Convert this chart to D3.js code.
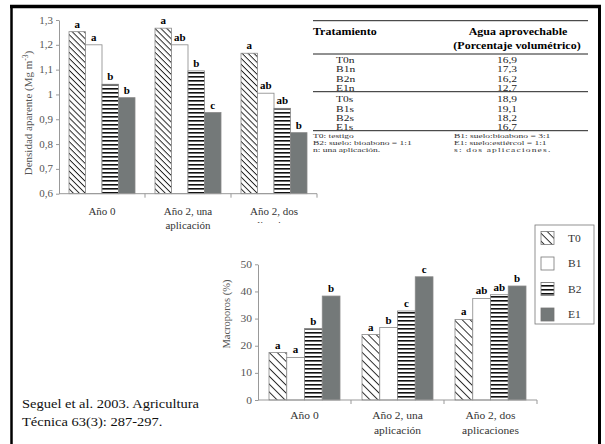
<!DOCTYPE html>
<meta charset="utf-8">
<style>
body { margin: 0; background: #fff; }
svg, text { font-family: "Liberation Serif", "DejaVu Serif", serif; }
.axis path, .axis line { stroke: #999; }
.axis text { fill: #555; }
</style>
<svg width="605" height="444" font-family="Liberation Serif"></svg>
<script src="https://d3js.org/d3.v7.min.js"></script>
<script>

// datos
var categorias = [["Año 0"], ["Año 2, una", "aplicación"], ["Año 2, dos", "aplicaciones"]];
var series = ["T0", "B1", "B2", "E1"];
var densidad = [[1.253, 1.200, 1.041, 0.987],
                [1.267, 1.200, 1.095, 0.927],
                [1.166, 1.005, 0.944, 0.846]];
var densidadLetras = [["a", "a", "b", "b"], ["a", "ab", "b", "c"], ["a", "ab", "ab", "b"]];
var densidadTicks = [0.6, 0.7, 0.8, 0.9, 1.0, 1.1, 1.2, 1.3];
var macroporos = [[17.5, 15.7, 26.3, 38.3],
                  [24.1, 26.7, 32.8, 45.4],
                  [29.7, 37.4, 38.8, 42.0]];
var macroLetras = [["a", "a", "b", "b"], ["a", "b", "c", "c"], ["a", "ab", "ab", "b"]];
var macroTicks = [0, 10, 20, 30, 40, 50];
var tratamientos = ["T0n", "B1n", "B2n", "E1n", "T0s", "B1s", "B2s", "E1s"];
var agua = [16.9, 17.3, 16.2, 12.7, 18.9, 19.1, 18.2, 16.7];
var notasIzq = ["T0: testigo", "B2: suelo: bioabono = 1:1", "n: una aplicación."];
var notasDer = ["B1: suelo:bioabono = 3:1", "E1: suelo:estiércol  = 1:1", "s:  dos  aplicaciones."];
var cita = ["Seguel et al. 2003. Agricultura", "Técnica 63(3): 287-297."];

var es = d3.formatLocale({decimal: ",", thousands: ".", grouping: [3], currency: ["", ""]});
var fmtTick = es.format(".1~f");
var fmtVal = es.format(".1f");

var svg = d3.select("svg");
var defs = svg.append("defs");
var gris = "#747979";
var K = 0.85; // la figura original está algo aplastada en vertical

// aplasta el texto en vertical alrededor de su línea base
function aplastar(sel, k) {
  sel.attr("transform", function() {
    var yy = +d3.select(this).attr("y") || 0;
    return "matrix(1,0,0," + k + ",0," + (yy * (1 - k)) + ")";
  });
}

function patrones(sufijo, diag, horiz) {
  var p = defs.append("pattern").attr("id", "diag" + sufijo)
      .attr("patternUnits", "userSpaceOnUse").attr("width", 10).attr("height", diag)
      .attr("patternTransform", "rotate(45)");
  p.append("rect").attr("width", 10).attr("height", diag).attr("fill", "#fff");
  p.append("line").attr("x1", 0).attr("x2", 10).attr("y1", 0.5).attr("y2", 0.5)
      .attr("stroke", "#111").attr("stroke-width", 0.9);
  var h = defs.append("pattern").attr("id", "horiz" + sufijo)
      .attr("patternUnits", "userSpaceOnUse").attr("width", 10).attr("height", horiz);
  h.append("rect").attr("width", 10).attr("height", horiz).attr("fill", "#fff");
  h.append("rect").attr("y", 0).attr("width", 10).attr("height", 1.6).attr("fill", "#111");
}
patrones("A", 4.2, 4);
patrones("B", 5.6, 4);

function relleno(sufijo) {
  return function(s) {
    if (s === "T0") return "url(#diag" + sufijo + ")";
    if (s === "B1") return "#fff";
    if (s === "B2") return "url(#horiz" + sufijo + ")";
    return gris;
  };
}

function grafico(cfg) {
  var g = svg.append("g");
  var x0 = d3.scaleBand().domain(d3.range(categorias.length)).range([cfg.x0, cfg.x1]);
  var x1 = d3.scaleBand().domain(series).range([cfg.pad, x0.bandwidth() - cfg.pad]);
  var y = d3.scaleLinear().domain(cfg.dominio).range([cfg.yb, cfg.yt]);
  var fill = relleno(cfg.suf);

  var grupos = g.selectAll("g.grupo").data(cfg.datos).enter().append("g")
      .attr("class", "grupo")
      .attr("transform", function(d, i) { return "translate(" + x0(i) + ",0)"; });

  grupos.selectAll("rect").data(function(d) { return d; }).enter().append("rect")
      .attr("x", function(d, j) { return x1(series[j]); })
      .attr("width", x1.bandwidth())
      .attr("y", function(d) { return y(d); })
      .attr("height", function(d) { return y(cfg.dominio[0]) - y(d); })
      .attr("fill", function(d, j) { return fill(series[j]); })
      .attr("stroke", "#888").attr("stroke-width", 0.8);

  grupos.selectAll("text").data(function(d, i) {
        return d.map(function(v, j) { return {v: v, j: j, l: cfg.letras[i][j]}; });
      }).enter().append("text")
      .attr("x", function(d) { return x1(series[d.j]) + x1.bandwidth() / 2; })
      .attr("y", function(d) { return y(d.v) - 4; })
      .attr("text-anchor", "middle")
      .attr("font-weight", "bold")
      .attr("font-size", cfg.fsLetra)
      .text(function(d) { return d.l; })
      .call(aplastar, K);

  var ay = g.append("g").attr("class", "axis")
      .attr("transform", "translate(" + cfg.x0 + ",0)")
      .call(d3.axisLeft(y).tickValues(cfg.ticks).tickFormat(cfg.fmt).tickSize(3).tickSizeOuter(0));
  ay.attr("font-family", null);
  ay.selectAll("text").attr("font-size", cfg.fsTick).call(aplastar, K);

  var ax = g.append("g").attr("class", "axis")
      .attr("transform", "translate(0," + cfg.yb + ")");
  ax.append("line").attr("x1", cfg.x0).attr("x2", cfg.x1);
  ax.selectAll("line.t").data(d3.range(1, categorias.length + 1)).enter().append("line")
      .attr("class", "t")
      .attr("x1", function(i) { return i < categorias.length ? x0(i) : cfg.x1; })
      .attr("x2", function(i) { return i < categorias.length ? x0(i) : cfg.x1; })
      .attr("y1", 0).attr("y2", 4);

  var et = g.selectAll("text.cat").data(categorias).enter().append("text")
      .attr("class", "cat")
      .attr("x", function(d, i) { return x0(i) + x0.bandwidth() / 2; })
      .attr("y", cfg.yb + cfg.catDy)
      .attr("text-anchor", "middle")
      .attr("font-size", cfg.fsCat)
      .attr("fill", "#333");
  et.selectAll("tspan").data(function(d) { return d; }).enter().append("tspan")
      .attr("x", function() { return d3.select(this.parentNode).attr("x"); })
      .attr("dy", function(d, k) { return k === 0 ? 0 : cfg.catStep / K; })
      .text(function(d) { return d; });
  et.call(aplastar, K);

  var yl = g.append("text")
      .attr("transform", "translate(" + cfg.labelX + "," + cfg.labelY + ") rotate(-90)")
      .attr("text-anchor", "middle")
      .attr("font-size", cfg.fsLabel)
      .attr("fill", "#555");
  cfg.label(yl);
  return g;
}

// gráfico superior: densidad aparente
grafico({
  suf: "A", datos: densidad, letras: densidadLetras,
  x0: 59, x1: 317, pad: 10, dominio: [0.6, 1.3], yb: 193.7, yt: 20,
  ticks: densidadTicks, fmt: fmtTick, fsTick: 11, fsLetra: 11, fsCat: 11, catDy: 21,
  catStep: 14.5, fsLabel: 11, labelX: 32, labelY: 113,
  label: function(t) {
    t.append("tspan").text("Densidad aparente (Mg m");
    t.append("tspan").attr("dy", -4).attr("font-size", 7.5).text("-3");
    t.append("tspan").attr("dy", 4).text(")");
  }
});

// tapa la parte inferior del rótulo (recorte de la figura original)
svg.append("rect").attr("x", 235).attr("y", 223).attr("width", 360).attr("height", 223).attr("fill", "#fff");

// tabla
var tx0 = 313, tx1 = 588;
var filaY = d3.scaleLinear().domain([0, 7.25]).range([59.5, 126.2]);
function posFila(i) { return filaY(i >= 4 ? i + 0.25 : i); }
var tabla = svg.append("g");
[20.7, 54, 91.7, 130.7].forEach(function(yy) {
  tabla.append("line").attr("x1", tx0).attr("x2", tx1).attr("y1", yy).attr("y2", yy)
      .attr("stroke", "#222").attr("stroke-width", 1);
});
tabla.append("text").attr("x", tx0).attr("y", 35.5).attr("font-size", 12)
    .attr("font-weight", "bold").text("Tratamiento").call(aplastar, K);
tabla.append("text").attr("x", 518).attr("y", 35.5).attr("font-size", 12)
    .attr("font-weight", "bold").attr("text-anchor", "middle").text("Agua aprovechable").call(aplastar, K);
tabla.append("text").attr("x", 517).attr("y", 49).attr("font-size", 12)
    .attr("font-weight", "bold").attr("text-anchor", "middle").text("(Porcentaje volumétrico)").call(aplastar, K);
tabla.selectAll("text.trat").data(tratamientos).enter().append("text")
    .attr("class", "trat").attr("x", 336).attr("y", function(d, i) { return posFila(i) + 3.8; })
    .attr("font-size", 11.5).attr("fill", "#222").text(function(d) { return d; })
    .call(aplastar, 0.78);
tabla.selectAll("text.val").data(agua).enter().append("text")
    .attr("class", "val").attr("x", 507).attr("y", function(d, i) { return posFila(i) + 3.8; })
    .attr("font-size", 11.5).attr("fill", "#222").attr("text-anchor", "middle")
    .text(function(d) { return fmtVal(d); })
    .call(aplastar, 0.78);
tabla.selectAll("text.ni").data(notasIzq).enter().append("text")
    .attr("x", tx0).attr("y", function(d, i) { return 138.5 + i * 6.6; })
    .attr("font-size", 9.5).attr("fill", "#333").text(function(d) { return d; })
    .call(aplastar, 0.72);
tabla.selectAll("text.nd").data(notasDer).enter().append("text")
    .attr("x", 454).attr("y", function(d, i) { return 138.5 + i * 6.6; })
    .attr("font-size", 9.5).attr("fill", "#333")
    .attr("letter-spacing", function(d, i) { return i === 2 ? 1.2 : 0; })
    .text(function(d) { return d; })
    .call(aplastar, 0.72);

// gráfico inferior: macroporos
grafico({
  suf: "B", datos: macroporos, letras: macroLetras,
  x0: 258, x1: 537, pad: 11, dominio: [0, 50], yb: 400, yt: 264.3,
  ticks: macroTicks, fmt: fmtTick, fsTick: 11.5, fsLetra: 11, fsCat: 11.5, catDy: 19,
  catStep: 15, fsLabel: 10.5, labelX: 230, labelY: 314,
  label: function(t) { t.text("Macroporos (%)"); }
});

// leyenda
var fillL = relleno("B");
var ley = svg.append("g");
ley.append("rect").attr("x", 535).attr("y", 225).attr("width", 59).attr("height", 99)
    .attr("fill", "#fff").attr("stroke", "#777").attr("stroke-width", 0.8);
var leyY = d3.scalePoint().domain(series).range([238, 314.5]);
var it = ley.selectAll("g.item").data(series).enter().append("g")
    .attr("transform", function(d) { return "translate(0," + leyY(d) + ")"; });
it.append("rect").attr("x", 541).attr("y", -6.5).attr("width", 13).attr("height", 13)
    .attr("fill", function(d) { return fillL(d); }).attr("stroke", "#777").attr("stroke-width", 0.8);
it.append("text").attr("x", 568).attr("y", 3.5).attr("font-size", 11.5).attr("fill", "#333")
    .text(function(d) { return d; })
    .call(aplastar, K);

// cita
svg.selectAll("text.cita").data(cita).enter().append("text")
    .attr("x", 22).attr("y", function(d, i) { return 408.5 + i * 18; })
    .attr("font-size", 14.5).attr("fill", "#111").text(function(d) { return d; })
    .call(aplastar, 0.88);

// marco
svg.append("line").attr("x1", 10).attr("x2", 601).attr("y1", 6.5).attr("y2", 6.5)
    .attr("stroke", "#000").attr("stroke-width", 3.5);
svg.append("line").attr("x1", 11.5).attr("x2", 11.5).attr("y1", 5).attr("y2", 444)
    .attr("stroke", "#000").attr("stroke-width", 2.5);
svg.append("line").attr("x1", 599.5).attr("x2", 599.5).attr("y1", 5).attr("y2", 444)
    .attr("stroke", "#000").attr("stroke-width", 3);

</script>
